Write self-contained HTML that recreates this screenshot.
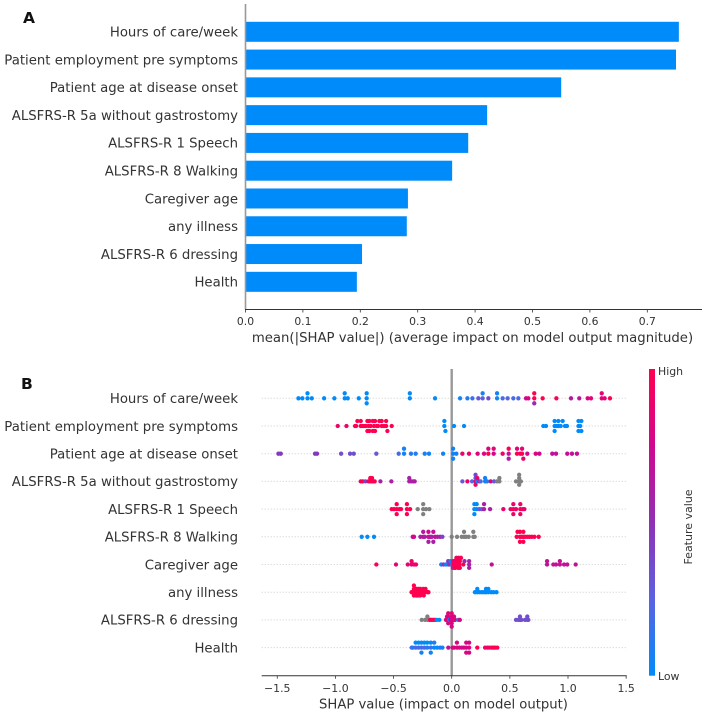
<!DOCTYPE html>
<html><head><meta charset="utf-8"><title>SHAP summary charts</title>
<style>
html,body{margin:0;padding:0;background:#fff}
svg{display:block}
text{font-family:"DejaVu Sans","Liberation Sans",sans-serif;fill:#333}
</style></head>
<body>
<svg id="chart" width="706" height="715" viewBox="0 0 706 715" xmlns="http://www.w3.org/2000/svg">
<defs>
<linearGradient id="cbar" x1="0" y1="1" x2="0" y2="0">
<stop offset="0" stop-color="#008bfb"/><stop offset="0.25" stop-color="#5b62e0"/><stop offset="0.5" stop-color="#9030b4"/><stop offset="0.75" stop-color="#d0088e"/><stop offset="1" stop-color="#ff0051"/>
</linearGradient>
</defs>
</svg>
<script>
const features = ["Hours of care/week","Patient employment pre symptoms","Patient age at disease onset","ALSFRS-R 5a without gastrostomy","ALSFRS-R 1 Speech","ALSFRS-R 8 Walking","Caregiver age","any illness","ALSFRS-R 6 dressing","Health"];
const meanShap = [0.755,0.75,0.55,0.421,0.388,0.36,0.283,0.281,0.203,0.194];
const barTicks = ["0.0","0.1","0.2","0.3","0.4","0.5","0.6","0.7"];
const swarmTicks = ["\u22121.5","\u22121.0","\u22120.5","0.0","0.5","1.0","1.5"];
const swarmTickValues = [-1.5,-1,-0.5,0,0.5,1,1.5];

// Each point: [SHAP value, normalised feature value (null = missing, drawn grey)]
const hoursPoints = [[-1.318,0],[-1.284,0],[-1.24,0],[-1.24,0],[-1.203,0],[-1.097,0],[-1.009,0],[-.92,0],[-.92,0],[-.894,0],[-.799,0],[-.731,0],[-.731,0],[-.731,0],[-.36,0],[-.36,0],[-.143,0],[.072,.05],[.135,.1],[.178,.15],[.229,.3],[.266,.25],[.266,.05],[.315,.35],[.39,.05],[.39,.05],[.438,.2],[.481,.25],[.53,.2],[.573,.2],[.639,.75],[.659,.8],[.71,1],[.71,1],[.71,.55],[.782,1],[.9,.95],[1.026,.65],[1.097,.65],[1.169,.8],[1.198,.85],[1.29,.85],[1.29,.85],[1.315,.85],[1.361,1]];
const employmentPoints = [[-.98,.9],[-.905,.9],[-.831,1],[-.822,1],[-.811,1],[-.782,1],[-.782,1],[-.771,1],[-.754,1],[-.739,1],[-.725,1],[-.725,1],[-.716,1],[-.708,1],[-.708,1],[-.696,1],[-.679,1],[-.679,1],[-.668,1],[-.659,1],[-.659,1],[-.645,1],[-.633,1],[-.622,1],[-.602,1],[-.602,1],[-.582,1],[-.564,1],[-.564,1],[-.553,1],[-.516,1],[-.063,0],[-.063,0],[-.054,0],[.02,0],[.106,0],[.788,0],[.811,0],[.885,0],[.885,0],[.885,0],[.903,0],[.917,0],[.917,0],[.937,0],[.954,0],[.974,0],[.991,0],[1.09,0],[1.09,0],[1.09,0],[1.105,0],[1.115,0],[1.115,0]];
const agePoints = [[-1.49,.45],[-1.47,.45],[-1.175,.45],[-1.158,.45],[-.951,.35],[-.874,.35],[-.842,.35],[-.648,.3],[-.456,.2],[-.41,.05],[-.41,.05],[-.35,.1],[-.31,.1],[-.232,.05],[-.195,.05],[-.074,.05],[.012,.05],[.012,.05],[.012,.05],[.04,.05],[.092,.9],[.149,.9],[.223,.8],[.278,.8],[.315,1],[.315,.8],[.361,.75],[.361,.85],[.438,.9],[.49,.7],[.49,1],[.49,.6],[.562,1],[.562,.85],[.59,.9],[.605,1],[.605,.85],[.616,.9],[.65,.75],[.722,.8],[.754,.75],[.865,.7],[.897,.7],[.994,.7],[1.034,.7],[1.077,.7]];
const fiveAPoints = [[-.782,1],[-.765,1],[-.742,.4],[-.716,.9],[-.7,1],[-.7,1],[-.685,1],[-.685,1],[-.673,1],[-.662,1],[-.613,.6],[-.519,.6],[-.365,.6],[-.365,.6],[-.347,.6],[-.33,.6],[-.318,.6],[.092,.3],[.135,.9],[.175,.25],[.205,.9],[.205,.3],[.205,.9],[.205,.4],[.22,.05],[.22,.9],[.238,.6],[.249,.2],[.287,.05],[.287,.05],[.304,.1],[.335,.9],[.364,.3],[.39,null],[.41,null],[.41,null],[.553,null],[.58,null],[.58,null],[.58,null],[.58,null],[.595,null]];
const speechPoints = [[-.516,1],[-.496,1],[-.473,1],[-.473,1],[-.473,1],[-.45,1],[-.436,1],[-.385,1],[-.385,1],[-.385,1],[-.358,1],[-.292,null],[-.245,null],[-.245,null],[-.245,null],[-.221,null],[-.192,null],[.195,0],[.195,0],[.195,0],[.215,0],[.215,0],[.238,.3],[.258,.3],[.278,.6],[.278,.6],[.33,.6],[.444,.9],[.507,.9],[.53,1],[.53,.9],[.53,.9],[.553,.9],[.59,1],[.59,.9],[.59,.9],[.61,.9],[.625,.9]];
const walkingPoints = [[-.774,0],[-.725,0],[-.668,0],[-.335,.75],[-.324,.75],[-.269,.6],[-.245,.65],[-.245,.65],[-.232,.6],[-.2,.7],[-.2,.75],[-.2,.6],[-.186,.7],[-.172,.6],[-.158,.7],[-.158,.6],[-.143,.7],[-.123,.6],[-.1,.6],[-.08,.4],[0,null],[.046,null],[.086,null],[.106,null],[.106,null],[.123,null],[.146,null],[.186,null],[.186,null],[.198,null],[.559,1],[.566,1],[.587,1],[.587,1],[.587,1],[.602,1],[.616,1],[.616,1],[.616,1],[.63,1],[.65,1],[.668,1],[.688,1],[.711,1],[.748,1]];
const caregiverPoints = [[-.648,1],[-.479,.85],[-.378,.85],[-.345,.9],[-.345,.9],[-.324,.9],[-.307,.9],[-.09,.05],[-.07,.45],[-.05,.05],[-.03,.05],[-.03,.5],[-.02,.5],[-.01,.05],[0,.3],[.01,.5],[.01,.55],[.015,1],[.02,1],[.025,1],[.03,1],[.03,.9],[.03,1],[.04,1],[.05,1],[.05,1],[.055,1],[.06,.9],[.065,1],[.07,1],[.07,1],[.08,1],[.1,1],[.11,.55],[.15,.6],[.15,.6],[.15,.6],[.344,.7],[.82,.7],[.82,.7],[.874,.7],[.897,.7],[.93,.7],[.93,.7],[.966,.7],[.994,.7],[1.066,.7]];
const illnessPoints = [[-.345,1],[-.335,1],[-.33,1],[-.325,1],[-.325,1],[-.325,1],[-.325,1],[-.31,1],[-.31,1],[-.305,1],[-.3,1],[-.3,1],[-.3,1],[-.29,1],[-.285,1],[-.285,1],[-.27,1],[-.27,1],[-.27,1],[-.26,1],[-.25,1],[-.245,1],[-.245,1],[-.24,1],[-.23,1],[-.225,1],[-.21,1],[-.2,1],[.2,0],[.22,0],[.22,0],[.24,0],[.26,0],[.28,0],[.295,0],[.295,0],[.315,0],[.315,0],[.34,0],[.36,0],[.385,0]];
const dressingPoints = [[-.258,null],[-.229,null],[-.209,null],[-.209,null],[-.192,null],[-.18,null],[-.186,1],[-.17,1],[-.155,1],[-.143,1],[-.129,0],[-.106,0],[-.05,.8],[-.04,.8],[-.04,.8],[-.03,.8],[-.03,.8],[-.03,.8],[-.03,.85],[-.02,0],[-.01,.8],[0,.8],[0,.8],[0,.8],[0,.85],[0,.8],[.01,.8],[.02,.8],[.02,.8],[.03,.85],[.057,0],[.07,.8],[.553,.35],[.573,.35],[.587,.35],[.587,.35],[.6,.35],[.63,.35],[.65,.35],[.65,.35],[.659,.35]];
const healthPoints = [[-.344,.2],[-.335,.1],[-.31,.2],[-.31,0],[-.285,.2],[-.285,0],[-.26,.2],[-.26,0],[-.26,.05],[-.235,.2],[-.235,0],[-.21,.1],[-.21,0],[-.18,.2],[-.18,0],[-.18,.05],[-.15,0],[-.15,.1],[-.125,0],[-.1,.1],[-.08,.05],[-.029,.7],[.009,.8],[.02,.8],[.045,.8],[.045,.8],[.065,.8],[.086,.75],[.105,.75],[.125,.8],[.125,.8],[.125,.8],[.15,.8],[.15,.8],[.15,.8],[.22,1],[.287,.9],[.307,.9],[.324,.95],[.344,.95],[.358,1],[.372,1],[.392,1]];
const swarmRows = [hoursPoints,employmentPoints,agePoints,fiveAPoints,speechPoints,walkingPoints,caregiverPoints,illnessPoints,dressingPoints,healthPoints];

const svg = document.getElementById('chart');
const NS = 'http://www.w3.org/2000/svg';
function add(tag, attrs, text){
  const el = document.createElementNS(NS, tag);
  for(const k in attrs){ el.setAttribute(k, attrs[k]); }
  if(text !== undefined){ el.textContent = text; }
  svg.appendChild(el);
  return el;
}
function slug(s){ return s.toLowerCase().replace(/[^a-z0-9]+/g,'-').replace(/^-|-$/g,''); }

// ---- Axis functions ----
const barX = v => 245.5 + v * 574;
const barY = i => 31.8 + i * 27.78;
const swarmX = v => 451.7 + v * 116.3;
const swarmY = i => 398.3 + i * 27.7;

const colorStops = [[0,[0,139,251]],[.25,[91,98,224]],[.5,[144,48,180]],[.75,[208,8,142]],[1,[255,0,81]]];
function featureColor(f){
  if(f === null){ return '#808080'; }
  for(let i=1;i<colorStops.length;i++){
    if(f <= colorStops[i][0]){
      const a = colorStops[i-1], b = colorStops[i];
      const t = (f-a[0])/(b[0]-a[0]);
      return 'rgb('+a[1].map((c,j)=>Math.round(c+(b[1][j]-c)*t)).join(',')+')';
    }
  }
  return '#ff0051';
}
// Same layering rule as the SHAP beeswarm: values quantised into 100 bins per feature,
// stacked alternately, then scaled so the tallest stack fits the row height.
function swarmOffsets(points){
  const vals = points.map(p=>p[0]);
  const min = Math.min(...vals), max = Math.max(...vals);
  const quant = vals.map(v=>Math.round(100*(v-min)/(max-min+1e-8)));
  const order = points.map((p,i)=>i).sort((a,b)=>quant[a]-quant[b]||a-b);
  const offs = new Array(points.length);
  let layer = 0, last = -1;
  for(const idx of order){
    if(quant[idx] !== last){ layer = 0; }
    offs[idx] = Math.ceil(layer/2)*((layer%2)*2-1);
    layer++;
    last = quant[idx];
  }
  const unit = 10 / (Math.max(...offs) + 1);
  return offs.map(o=>o*unit);
}

// ---- Panel A ----
const panelA = add('text',{x:23,y:23,'font-size':15.5,'font-weight':'bold',fill:'#111',style:'fill:#111'},'A');



features.forEach((name,i)=>{
  const bar = add('rect',{x:barX(0),y:barY(i)-10,width:barX(meanShap[i])-barX(0),height:20,fill:'#008bfb'});
  
  
  const lab = add('text',{x:238,y:barY(i)+4.8,'text-anchor':'end','font-size':13.27},name);
  
  
});
const barSpineLeft = add('line',{x1:245.5,x2:245.5,y1:4,y2:309.5,stroke:'#999','stroke-width':1.6});


const barSpineBottom = add('line',{x1:245,x2:702,y1:309.5,y2:309.5,stroke:'#333','stroke-width':1});


barTicks.forEach(t=>{
  const x = barX(parseFloat(t));
  const tick = add('line',{x1:x,x2:x,y1:309.5,y2:312.5,stroke:'#333','stroke-width':.8});
  
  
  const lab = add('text',{x:x,y:325,'text-anchor':'middle','font-size':10.8},t);
  
  
});
const barTitle = add('text',{x:472.5,y:342,'text-anchor':'middle','font-size':13.25},'mean(|SHAP value|) (average impact on model output magnitude)');



// ---- Panel B ----
const panelB = add('text',{x:21,y:389,'font-size':15.5,'font-weight':'bold',fill:'#111',style:'fill:#111'},'B');



features.forEach((name,i)=>{
  const grid = add('line',{x1:261.7,x2:626.7,y1:swarmY(i),y2:swarmY(i),stroke:'#ccc','stroke-width':1,'stroke-dasharray':'1 2'});
  
  
  const lab = add('text',{x:238,y:swarmY(i)+4.8,'text-anchor':'end','font-size':13.27},name);
  
  
});
const zeroLine = add('line',{x1:swarmX(0),x2:swarmX(0),y1:369,y2:675.7,stroke:'#999','stroke-width':2.4});



swarmRows.forEach((points,i)=>{
  const offs = swarmOffsets(points);
  points.forEach((p,j)=>{
    const dot = add('circle',{cx:swarmX(p[0]),cy:swarmY(i)-offs[j],r:2.15,fill:featureColor(p[1])});
    
    
  });
});

const swarmAxis = add('line',{x1:261.7,x2:626.7,y1:675.7,y2:675.7,stroke:'#333','stroke-width':1});


swarmTickValues.forEach((v,i)=>{
  const x = swarmX(v);
  const tick = add('line',{x1:x,x2:x,y1:675.7,y2:678.7,stroke:'#333','stroke-width':.8});
  
  
  const lab = add('text',{x:x,y:692,'text-anchor':'middle','font-size':10.9},swarmTicks[i]);
  
  
});
const swarmTitle = add('text',{x:443.5,y:708.5,'text-anchor':'middle','font-size':13.2},'SHAP value (impact on model output)');



// ---- Colour bar ----
const cbar = add('rect',{x:649,y:369,width:6,height:306.7,fill:'url(#cbar)'});


const cHigh = add('text',{x:658,y:375,'font-size':10.9},'High');


const cLow = add('text',{x:658,y:680,'font-size':10.9},'Low');


const cTitle = add('text',{x:0,y:0,'text-anchor':'middle','font-size':11,transform:'translate(692 527) rotate(-90)'},'Feature value');


</script>
</body></html>
